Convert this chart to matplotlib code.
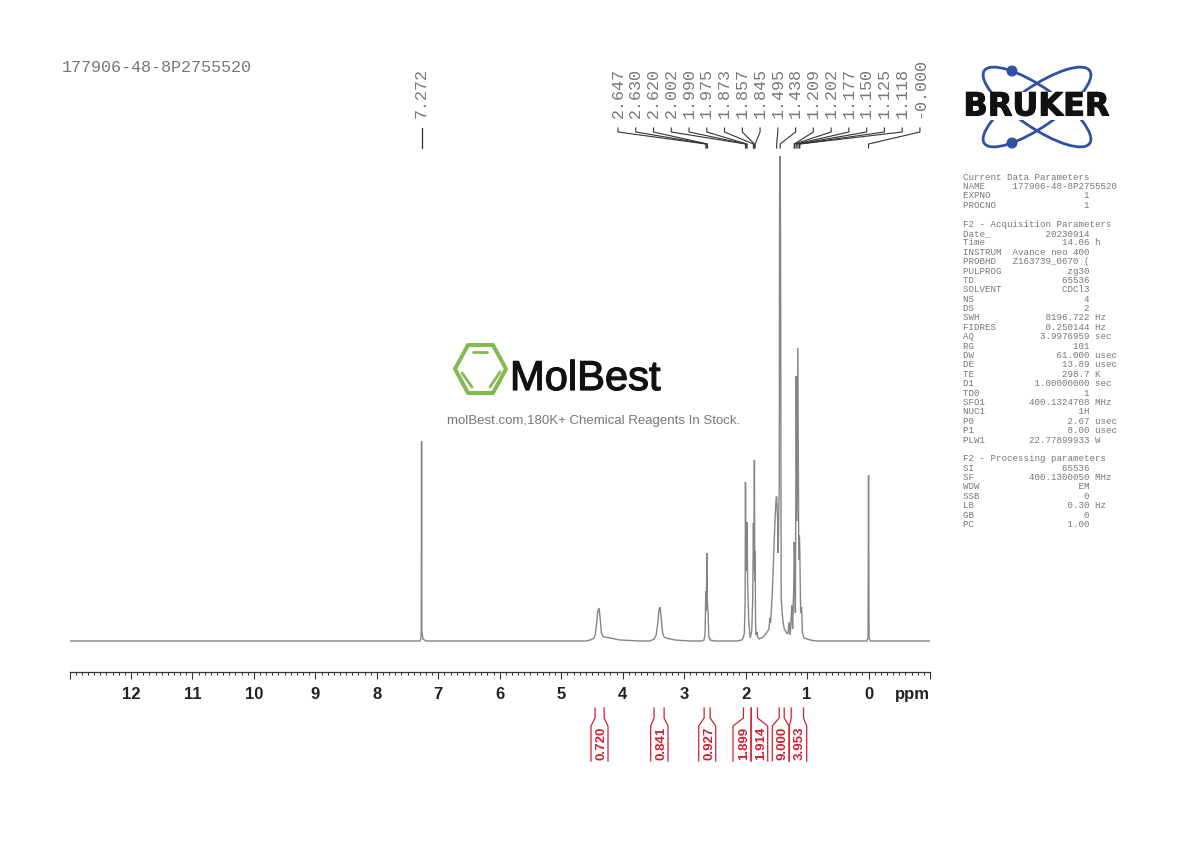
import matplotlib
matplotlib.use("Agg")
import matplotlib.pyplot as plt
from matplotlib.patches import Ellipse, Circle, Polygon, Rectangle
from matplotlib.ticker import MultipleLocator
import matplotlib.patheffects as pe

# spectrum trace: ppm and height above baseline
trace_ppm = [13.0, 7.30, 7.285, 7.277, 7.272, 7.267, 7.25, 7.2,
             4.60, 4.53, 4.465, 4.445, 4.425, 4.405, 4.385, 4.365, 4.345, 4.325, 4.302, 4.205, 4.042, 3.716,
             3.554, 3.489, 3.455, 3.43, 3.41, 3.39, 3.37, 3.35, 3.325, 3.293, 3.147, 2.902,
             2.72, 2.675, 2.660, 2.647, 2.640, 2.630, 2.625, 2.620, 2.610, 2.600, 2.575, 2.50,
             2.15, 2.06, 2.04, 2.02, 2.008, 2.002, 1.996, 1.990, 1.983, 1.975, 1.968, 1.95, 1.925,
             1.90, 1.885, 1.873, 1.865, 1.857, 1.850, 1.845, 1.838, 1.83, 1.817, 1.805, 1.78,
             1.74, 1.70, 1.65, 1.62, 1.605, 1.595, 1.584, 1.568, 1.552, 1.535, 1.519, 1.502, 1.495, 1.478, 1.47, 1.452,
             1.447, 1.438, 1.431, 1.421, 1.405, 1.388, 1.37, 1.33, 1.31, 1.293, 1.275, 1.247, 1.235, 1.215, 1.209,
             1.202, 1.19, 1.177, 1.165, 1.150, 1.135, 1.125, 1.118, 1.105, 1.09, 1.075, 1.05, 0.95, 0.85,
             0.03, 0.008, 0.0, -0.008, -0.03, -1.0]
trace_height = [0, 0, 2, 10, 200, 10, 2, 0,
                0, 1, 3, 7, 17, 30, 33, 22, 8, 5, 4, 3, 1, 0,
                0, 2, 6, 17, 31, 34, 20, 8, 4, 3, 1, 0,
                0, 1, 8, 50, 30, 88, 40, 38, 28, 5, 1, 0,
                0, 1, 3, 8, 40, 159, 70, 110, 75, 119, 60, 20, 3,
                10, 40, 118, 70, 181, 60, 90, 20, 6, 9, 4, 2,
                3, 5, 9, 12, 23, 18, 28, 45, 70, 100, 125, 144, 144, 120, 88, 160,
                450, 485, 400, 44, 28, 18, 12, 8, 7, 19, 6, 36, 12, 60, 99,
                82, 28, 265, 120, 293, 81, 106, 90, 28, 34, 8, 3, 1, 0,
                0, 3, 166, 3, 0, 0]

# peak picking labels
peak_labels = ["2.647", "2.630", "2.620", "2.002", "1.990", "1.975", "1.873", "1.857", "1.845",
               "1.495", "1.438", "1.209", "1.202", "1.177", "1.150", "1.125", "1.118", "-0.000"]
peak_ppm = [2.647, 2.630, 2.620, 2.002, 1.990, 1.975, 1.873, 1.857, 1.845,
            1.495, 1.438, 1.209, 1.202, 1.177, 1.150, 1.125, 1.118, 0.0]
solvent_ppm = 7.272

# integrals
integral_values = ["0.720", "0.841", "0.927", "1.899", "1.914", "9.000", "3.953"]
integral_left = [4.449, 3.489, 2.675, 2.035, 1.909, 1.454, 1.258]
integral_right = [4.302, 3.326, 2.577, 1.909, 1.807, 1.372, 1.058]
integral_flare_left = [591, 650.7, 698.7, 733, 751, 772.3, 789.3]
integral_flare_right = [608, 668, 715.7, 751, 767.7, 789, 806.7]

tick_ppm = list(range(-1, 14))
tick_text = ["" if t < 0 or t > 12 else str(t) for t in tick_ppm]

# parameter block on the right
param_rows = [
    ("Current Data Parameters", "", ""), ("NAME", "177906-48-8P2755520", ""), ("EXPNO", "1", ""), ("PROCNO", "1", ""),
    ("", "", ""),
    ("F2 - Acquisition Parameters", "", ""), ("Date_", "20230914", ""), ("Time", "14.06", "h"),
    ("INSTRUM", "Avance neo 400", ""), ("PROBHD", "Z163739_0670 (", ""), ("PULPROG", "zg30", ""),
    ("TD", "65536", ""), ("SOLVENT", "CDCl3", ""), ("NS", "4", ""), ("DS", "2", ""),
    ("SWH", "8196.722", "Hz"), ("FIDRES", "0.250144", "Hz"), ("AQ", "3.9976959", "sec"), ("RG", "101", ""),
    ("DW", "61.000", "usec"), ("DE", "13.89", "usec"), ("TE", "298.7", "K"), ("D1", "1.00000000", "sec"),
    ("TD0", "1", ""), ("SFO1", "400.1324708", "MHz"), ("NUC1", "1H", ""), ("P0", "2.67", "usec"),
    ("P1", "8.00", "usec"), ("PLW1", "22.77899933", "W"),
    ("", "", ""),
    ("F2 - Processing parameters", "", ""), ("SI", "65536", ""), ("SF", "400.1300050", "MHz"), ("WDW", "EM", ""),
    ("SSB", "0", ""), ("LB", "0.30", "Hz"), ("GB", "0", ""), ("PC", "1.00", ""),
]

fig = plt.figure(figsize=(11.9, 8.42), dpi=100)
W, H = 1190.0, 842.0

# main spectrum axes, px box x 69.5-930, y 150-672
ax = fig.add_axes([69.5 / W, 1 - 672 / H, (930 - 69.5) / W, (672 - 150) / H])
ax.plot(trace_ppm, trace_height, color="#858585", lw=1.0, solid_joinstyle="miter")
ax.set_xlim(13.0, -1.0)
ax.set_ylim(-31, 491)
for s in ["top", "left", "right"]:
    ax.spines[s].set_visible(False)
ax.spines["bottom"].set_color("#333333")
ax.spines["bottom"].set_linewidth(0.9)
ax.set_yticks([])
ax.set_xticks(tick_ppm)
ax.set_xticklabels(tick_text, family="Liberation Sans", fontweight="bold", fontsize=12, color="#222222")
ax.xaxis.set_minor_locator(MultipleLocator(0.1))
ax.tick_params(axis="x", which="major", length=5.2, width=0.8, color="#333333", pad=5.3)
ax.tick_params(axis="x", which="minor", length=2.2, width=0.7, color="#333333")

# overlay in pixel coordinates for everything around the plot
ov = fig.add_axes([0, 0, 1, 1])
ov.set_xlim(0, W)
ov.set_ylim(H, 0)
ov.axis("off")
ov.patch.set_alpha(0)


def ppm_px(p):
    return ov.transData.inverted().transform(ax.transData.transform((p, 0)))[0]


mono = "Liberation Mono"
txt_grey = "#777777"
ov.text(62, 68, "177906-48-8P2755520", family=mono, fontsize=12.1, color=txt_grey, va="center")
ov.text(912, 694.5, "ppm", family="Liberation Sans", fontweight="bold", fontsize=12, color="#222222",
        ha="center", va="center")

# solvent peak label
ov.text(421.5, 118.5, "7.272", family=mono, fontsize=12.1, color=txt_grey, rotation=90, ha="center", va="bottom")
ov.plot([ppm_px(solvent_ppm)] * 2, [128, 148], color="#333333", lw=0.9)

# peak labels with connectors
for i, (lab, p) in enumerate(zip(peak_labels, peak_ppm)):
    lx = 618 + 17.76 * i
    ov.text(lx, 118.5, lab, family=mono, fontsize=12.1, color=txt_grey, rotation=90, ha="center", va="bottom")
    px = ppm_px(p)
    ov.plot([lx, lx, px, px], [128, 132, 144, 148], color="#333333", lw=0.8)

# integrals
red = "#cf2030"
for val, l, r, fl, fr in zip(integral_values, integral_left, integral_right, integral_flare_left, integral_flare_right):
    xl, xr = ppm_px(l), ppm_px(r)
    ov.plot([xl, xl, fl, fl], [708, 718, 726, 761], color=red, lw=0.9)
    ov.plot([xr, xr, fr, fr], [708, 718, 726, 761], color=red, lw=0.9)
    ov.text((fl + fr) / 2 + 2, 743, val, family="Liberation Sans", fontweight="bold", fontsize=9.5, color=red,
            rotation=90, ha="center", va="center")

# parameter text
for i, (name, value, unit) in enumerate(param_rows):
    if not name:
        continue
    if not value:
        line = name
    elif len(value) > 15:
        line = f"{name:<9}{value}"
    else:
        line = f"{name:<8}{value:>15} {unit}"
    ov.text(963, 177.2 + 9.386 * i, line, family=mono, fontsize=6.58, color=txt_grey, va="center")

# Bruker logo
blue = "#2f51a3"
for ang in [34.6, -34.6]:
    ov.add_patch(Ellipse((1037, 107), 128, 40, angle=ang, fill=False, ec=blue, lw=2.0, zorder=3))
for y in [71, 143]:
    ov.add_patch(Circle((1012, y), 4.8, color=blue, zorder=4))
ov.add_patch(Rectangle((955, 92), 165, 28, fc="white", ec="none", zorder=5))
ov.text(1036.5, 107, "BRUKER", family="DejaVu Sans", fontweight="bold", fontsize=23, color="#111111",
        ha="center", va="center", zorder=6, path_effects=[pe.withStroke(linewidth=0.8, foreground="#111111")])

# MolBest watermark
green = "#84bb50"
ov.add_patch(Polygon([(468, 345), (493, 345), (506, 369), (493, 393), (468, 393), (455, 369)],
                     closed=True, fill=False, ec=green, lw=2.9, joinstyle="round", zorder=3))
for xs, ys in [([473, 487], [352, 352]), ([462, 472], [373, 387]), ([490, 500], [387, 372])]:
    ov.plot(xs, ys, color=green, lw=2.0, solid_capstyle="round")
ov.text(510, 390, "MolBest", family="Liberation Sans", fontsize=30, color="#111111",
        ha="left", va="baseline", path_effects=[pe.withStroke(linewidth=0.9, foreground="#111111")])
ov.text(594, 421, "molBest.com,180K+ Chemical Reagents In Stock.", family="Liberation Sans", fontsize=9.5,
        color="#777777", ha="center", va="center")

fig.savefig("out.png", dpi=100)
